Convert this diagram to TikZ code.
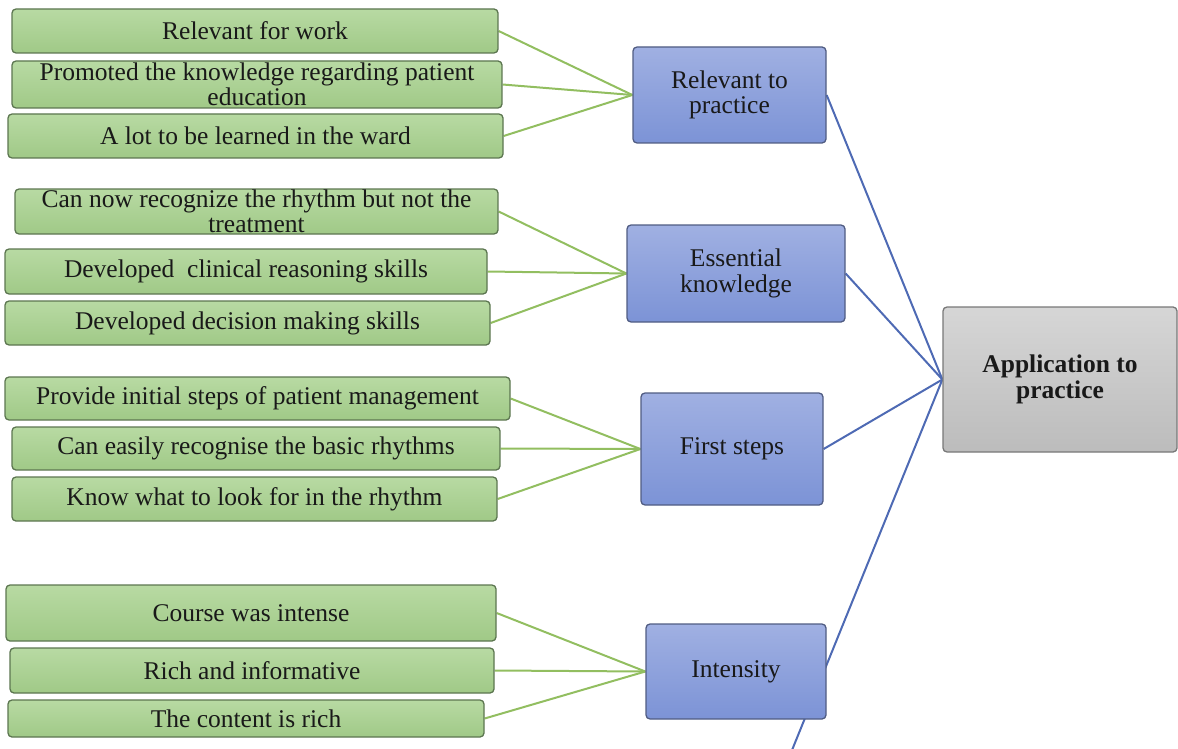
\documentclass[tikz,border=0pt]{standalone}
\usepackage{fontspec}
\setmainfont{Liberation Serif}
\usetikzlibrary{backgrounds}
\definecolor{gtop}{RGB}{184,218,163}
\definecolor{gbot}{RGB}{160,201,135}
\definecolor{gedge}{RGB}{92,118,80}
\definecolor{btop}{RGB}{160,176,226}
\definecolor{bbot}{RGB}{124,147,214}
\definecolor{bedge}{RGB}{80,92,130}
\definecolor{ytop}{RGB}{214,214,214}
\definecolor{ybot}{RGB}{188,188,188}
\definecolor{yedge}{RGB}{120,120,120}
\definecolor{gline}{RGB}{146,190,96}
\definecolor{bline}{RGB}{78,106,180}
\tikzset{
  base/.style={rounded corners=4pt, line width=1.3pt, inner sep=0pt, align=center,
    font=\fontsize{25.5}{25.5}\selectfont, text=black!90},
  gbox/.style={base, draw=gedge, top color=gtop, bottom color=gbot},
  bbox/.style={base, draw=bedge, top color=btop, bottom color=bbot},
  ybox/.style={base, draw=yedge, top color=ytop, bottom color=ybot, font=\fontsize{25.5}{26}\selectfont\bfseries},
  gcon/.style={draw=gline, line width=2pt},
  bcon/.style={draw=bline, line width=2pt}
}
\begin{document}
\begin{tikzpicture}[x=1pt,y=-1pt]
\useasboundingbox (0,0) rectangle (1178,749);
% green boxes
\node[gbox, minimum width=486pt, minimum height=44pt] (a1) at (255,31) {Relevant for work};
\node[gbox, minimum width=490pt, minimum height=47pt] (a2) at (257,84.5) {Promoted the knowledge regarding patient\\education};
\node[gbox, minimum width=495pt, minimum height=44pt] (a3) at (255.5,136) {A lot to be learned in the ward};
\node[gbox, minimum width=483pt, minimum height=45pt] (b1) at (256.5,211.5) {Can now recognize the rhythm but not the\\treatment};
\node[gbox, minimum width=482pt, minimum height=45pt] (b2) at (246,271.5) {Developed~ clinical reasoning skills};
\node[gbox, minimum width=485pt, minimum height=44pt] (b3) at (247.5,323) {Developed decision making skills};
\node[gbox, minimum width=505pt, minimum height=43pt] (c1) at (257.5,398.5) {Provide initial steps of patient management};
\node[gbox, minimum width=488pt, minimum height=43pt] (c2) at (256,448.5) {Can easily recognise the basic rhythms};
\node[gbox, minimum width=485pt, minimum height=44pt] (c3) at (254.5,499) {Know what to look for in the rhythm};
\node[gbox, minimum width=490pt, minimum height=56pt] (d1) at (251,613) {Course was intense};
\node[gbox, minimum width=484pt, minimum height=45pt] (d2) at (252,670.5) {Rich and informative};
\node[gbox, minimum width=476pt, minimum height=37pt] (d3) at (246,718.5) {The content is rich};
% blue boxes
\node[bbox, minimum width=193pt, minimum height=96pt] (r) at (729.5,95) {Relevant to\\practice};
\node[bbox, minimum width=218pt, minimum height=97pt] (e) at (736,273.5) {Essential\\knowledge};
\node[bbox, minimum width=182pt, minimum height=112pt] (f) at (732,449) {First steps};
\node[bbox, minimum width=180pt, minimum height=95pt] (i) at (736,671.5) {Intensity};
% gray box
\node[ybox, minimum width=234pt, minimum height=145pt] (g) at (1060,379.5) {Application to\\practice};
\coordinate (off) at (788,760);
\begin{scope}[on background layer]
\draw[gcon] (a1.east) -- (r.west);
\draw[gcon] (a2.east) -- (r.west);
\draw[gcon] (a3.east) -- (r.west);
\draw[gcon] (b1.east) -- (e.west);
\draw[gcon] (b2.east) -- (e.west);
\draw[gcon] (b3.east) -- (e.west);
\draw[gcon] (c1.east) -- (f.west);
\draw[gcon] (c2.east) -- (f.west);
\draw[gcon] (c3.east) -- (f.west);
\draw[gcon] (d1.east) -- (i.west);
\draw[gcon] (d2.east) -- (i.west);
\draw[gcon] (d3.east) -- (i.west);
\draw[bcon] (r.east) -- (g.west);
\draw[bcon] (e.east) -- (g.west);
\draw[bcon] (f.east) -- (g.west);
\draw[bcon] (g.west) -- (off);
\end{scope}
\end{tikzpicture}
\end{document}
